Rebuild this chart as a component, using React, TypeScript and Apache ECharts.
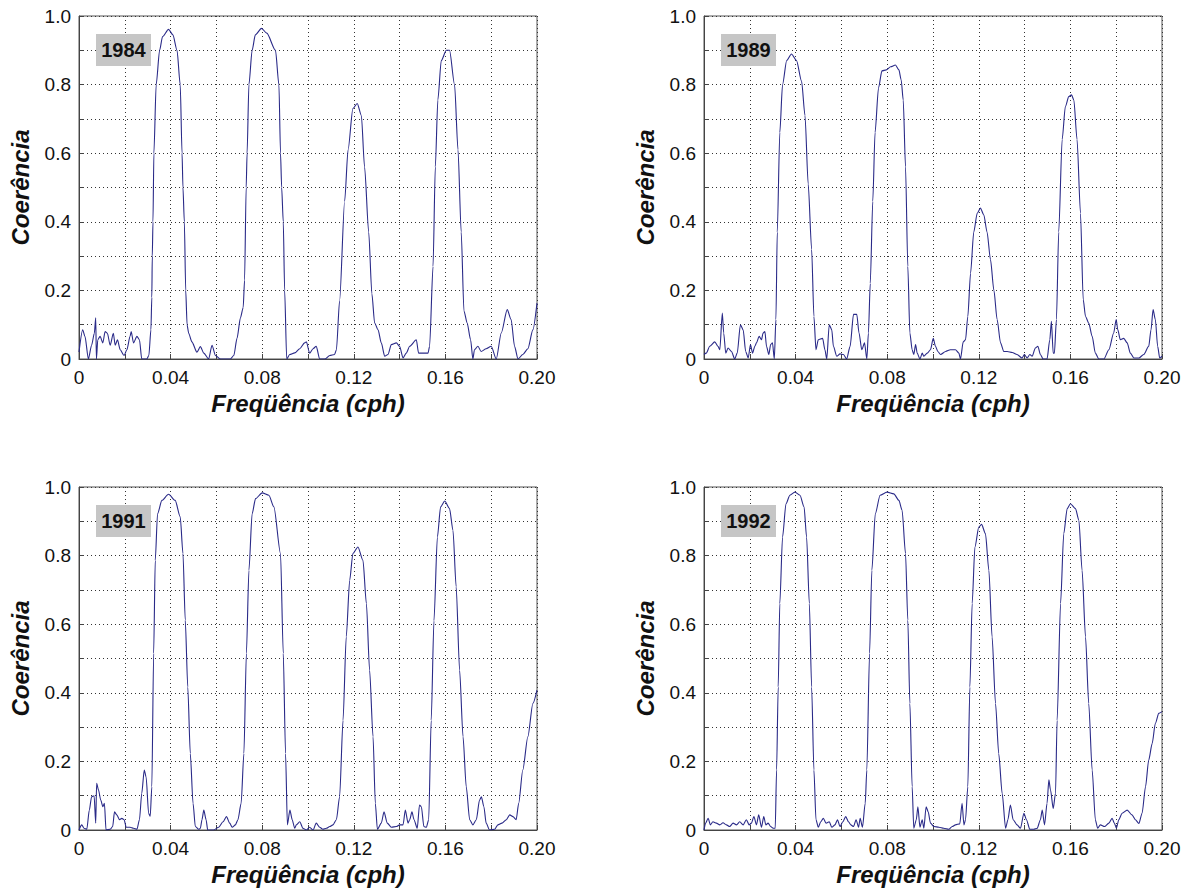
import React, { useEffect, useRef } from 'react';
import * as echarts from 'echarts';

const years = ['1984', '1989', '1991', '1992'];
const xAxisTitle = 'Freqüência (cph)';
const yAxisTitle = 'Coerência';

const coh1984: [number, number][] = [
  [0, 0.02], [0.0016, 0.085], [0.0026, 0.066], [0.0041, 0.0], [0.0055, 0.04], [0.0067, 0.075], [0.0073, 0.12], [0.0076, 0.0],
  [0.0082, 0.056], [0.0092, 0.066], [0.0104, 0.047], [0.0114, 0.08], [0.0124, 0.075], [0.0136, 0.04], [0.015, 0.075], [0.0158, 0.04],
  [0.0168, 0.056], [0.018, 0.027], [0.0197, 0.01], [0.0209, 0.027], [0.0223, 0.066], [0.0228, 0.08], [0.0238, 0.047], [0.0253, 0.066],
  [0.0264, 0.056], [0.0274, 0.0], [0.0296, 0.0], [0.0305, 0.01], [0.0314, 0.085], [0.0318, 0.18], [0.032, 0.3], [0.0323, 0.4],
  [0.0327, 0.6], [0.0337, 0.8], [0.0352, 0.9], [0.0365, 0.94], [0.0391, 0.961], [0.041, 0.945], [0.0428, 0.9], [0.0442, 0.8],
  [0.045, 0.6], [0.0454, 0.5], [0.046, 0.4], [0.0466, 0.2], [0.0472, 0.1], [0.0479, 0.075], [0.0493, 0.05], [0.0515, 0.02],
  [0.053, 0.036], [0.0545, 0.017], [0.0566, 0.0], [0.0581, 0.04], [0.0596, 0.01], [0.0618, 0.0], [0.0661, 0.0], [0.0676, 0.01],
  [0.069, 0.06], [0.0705, 0.12], [0.0717, 0.15], [0.0723, 0.23], [0.073, 0.5], [0.0734, 0.6], [0.0742, 0.8], [0.0756, 0.9],
  [0.077, 0.945], [0.0797, 0.964], [0.082, 0.95], [0.0858, 0.9], [0.0873, 0.8], [0.088, 0.6], [0.0885, 0.5], [0.0892, 0.4],
  [0.0898, 0.2], [0.0907, 0.0], [0.092, 0.013], [0.0942, 0.018], [0.0964, 0.03], [0.0985, 0.047], [0.0993, 0.05], [0.1007, 0.017],
  [0.1022, 0.03], [0.1036, 0.037], [0.1051, 0.0], [0.1073, 0.0], [0.1095, 0.01], [0.1116, 0.013], [0.1124, 0.027], [0.1138, 0.17],
  [0.116, 0.46], [0.1175, 0.61], [0.1196, 0.73], [0.1215, 0.745], [0.1233, 0.71], [0.1247, 0.56], [0.1265, 0.37], [0.1279, 0.19],
  [0.1291, 0.105], [0.1306, 0.085], [0.132, 0.047], [0.1335, 0.008], [0.1349, 0.013], [0.1364, 0.042], [0.1386, 0.047], [0.14, 0.037],
  [0.1415, 0.003], [0.1429, 0.017], [0.1444, 0.037], [0.1473, 0.056], [0.1483, 0.017], [0.1502, 0.017], [0.1524, 0.017], [0.1531, 0.037],
  [0.1546, 0.27], [0.1556, 0.56], [0.1567, 0.755], [0.1582, 0.87], [0.1604, 0.9], [0.1618, 0.9], [0.164, 0.8], [0.1655, 0.61],
  [0.1669, 0.37], [0.1681, 0.14], [0.1695, 0.105], [0.171, 0.056], [0.172, 0.0], [0.1727, 0.027], [0.1742, 0.037], [0.1756, 0.022],
  [0.1778, 0.03], [0.18, 0.037], [0.1822, 0.0], [0.1844, 0.076], [0.187, 0.144], [0.1887, 0.115], [0.1902, 0.037], [0.1917, 0.0],
  [0.1938, 0.013], [0.196, 0.03], [0.1982, 0.085], [0.2, 0.163],
];

const coh1989: [number, number][] = [
  [0, 0.013], [0.001, 0.017], [0.0025, 0.037], [0.0047, 0.05], [0.0061, 0.037], [0.0069, 0.027], [0.008, 0.134], [0.0086, 0.076],
  [0.0095, 0.017], [0.0105, 0.032], [0.012, 0.022], [0.0134, 0.0], [0.0145, 0.017], [0.0159, 0.1], [0.0171, 0.085], [0.0182, 0.022],
  [0.0193, 0.003], [0.0203, 0.042], [0.0212, 0.017], [0.0222, 0.037], [0.0229, 0.047], [0.0241, 0.066], [0.0251, 0.056], [0.0258, 0.076],
  [0.0266, 0.08], [0.0273, 0.037], [0.0283, 0.013], [0.0291, 0.042], [0.0299, 0.047], [0.0307, 0.0], [0.0314, 0.115], [0.032, 0.37],
  [0.0331, 0.66], [0.0343, 0.8], [0.0361, 0.87], [0.0382, 0.889], [0.0404, 0.87], [0.0426, 0.81], [0.0441, 0.71], [0.0455, 0.51],
  [0.047, 0.32], [0.048, 0.124], [0.0489, 0.027], [0.0499, 0.056], [0.0518, 0.06], [0.0528, 0.027], [0.0536, 0.0], [0.0547, 0.1],
  [0.0558, 0.085], [0.0565, 0.037], [0.058, 0.008], [0.0594, 0.015], [0.0609, 0.013], [0.0623, 0.0], [0.0638, 0.037], [0.0653, 0.13],
  [0.0667, 0.13], [0.0677, 0.076], [0.0689, 0.027], [0.0701, 0.047], [0.0711, 0.0], [0.0718, 0.076], [0.0726, 0.22], [0.0737, 0.46],
  [0.0747, 0.66], [0.0762, 0.79], [0.0777, 0.84], [0.0796, 0.843], [0.0815, 0.852], [0.0836, 0.857], [0.0851, 0.843], [0.0861, 0.814],
  [0.087, 0.755], [0.088, 0.56], [0.089, 0.27], [0.0899, 0.076], [0.0909, 0.027], [0.0916, 0.013], [0.0924, 0.042], [0.0931, 0.017],
  [0.0943, 0.0], [0.0953, 0.017], [0.096, 0.008], [0.0975, 0.017], [0.0989, 0.027], [0.1001, 0.06], [0.1011, 0.037], [0.1021, 0.022],
  [0.1033, 0.013], [0.1055, 0.022], [0.1076, 0.027], [0.1098, 0.027], [0.1113, 0.017], [0.112, 0.0], [0.1132, 0.05], [0.1142, 0.056],
  [0.1152, 0.124], [0.1164, 0.25], [0.1178, 0.37], [0.1193, 0.425], [0.1207, 0.44], [0.1222, 0.42], [0.1236, 0.37], [0.1251, 0.29],
  [0.1266, 0.2], [0.128, 0.115], [0.1295, 0.047], [0.1309, 0.022], [0.1324, 0.022], [0.1346, 0.019], [0.1367, 0.013], [0.1389, 0.003],
  [0.1399, 0.013], [0.1411, 0.003], [0.1423, 0.013], [0.1433, 0.008], [0.1447, 0.032], [0.1458, 0.037], [0.1469, 0.013], [0.1481, 0.0],
  [0.1498, 0.0], [0.151, 0.056], [0.1517, 0.11], [0.1525, 0.017], [0.153, 0.017], [0.1539, 0.115], [0.1549, 0.37], [0.1564, 0.64],
  [0.1578, 0.736], [0.1593, 0.765], [0.1605, 0.77], [0.1615, 0.755], [0.1629, 0.64], [0.1644, 0.425], [0.1656, 0.173], [0.1666, 0.124],
  [0.168, 0.105], [0.1695, 0.066], [0.1709, 0.017], [0.1724, 0.0], [0.1746, 0.0], [0.1768, 0.027], [0.1789, 0.076], [0.18, 0.115],
  [0.1807, 0.085], [0.1818, 0.056], [0.1833, 0.06], [0.1848, 0.047], [0.1862, 0.017], [0.1877, 0.003], [0.1899, 0.003], [0.192, 0.013],
  [0.1942, 0.037], [0.1952, 0.085], [0.1961, 0.144], [0.1971, 0.115], [0.1981, 0.037], [0.199, 0.003], [0.2, 0.008],
];

const coh1991: [number, number][] = [
  [0, 0], [0.0012, 0.015], [0.0022, 0.005], [0.0034, 0.002], [0.0045, 0.058], [0.0055, 0.097], [0.0066, 0.1], [0.0073, 0.02],
  [0.0077, 0.136], [0.0085, 0.117], [0.0095, 0.087], [0.0104, 0.068], [0.0111, 0.078], [0.0118, 0.0], [0.0136, 0.002], [0.0147, 0.01],
  [0.0155, 0.053], [0.0165, 0.044], [0.0177, 0.03], [0.0187, 0.034], [0.0197, 0.03], [0.0206, 0.008], [0.0223, 0.008], [0.0238, 0.005],
  [0.0253, 0.002], [0.0264, 0.03], [0.0274, 0.107], [0.0285, 0.175], [0.0293, 0.155], [0.0304, 0.049], [0.0311, 0.04], [0.0318, 0.126],
  [0.0326, 0.515], [0.0333, 0.786], [0.0343, 0.922], [0.0362, 0.961], [0.0391, 0.979], [0.042, 0.961], [0.0442, 0.913], [0.0454, 0.806],
  [0.0464, 0.612], [0.0475, 0.417], [0.0486, 0.223], [0.0498, 0.078], [0.0508, 0.01], [0.0523, 0.002], [0.053, 0.005], [0.0537, 0.03],
  [0.0545, 0.058], [0.0555, 0.03], [0.0562, 0.0], [0.0588, 0.0], [0.061, 0.008], [0.0629, 0.024], [0.0644, 0.039], [0.0658, 0.02],
  [0.0669, 0.008], [0.0683, 0.015], [0.0694, 0.03], [0.0708, 0.078], [0.072, 0.223], [0.0731, 0.515], [0.0742, 0.757], [0.0756, 0.922],
  [0.0771, 0.966], [0.08, 0.983], [0.0829, 0.976], [0.0851, 0.942], [0.088, 0.806], [0.0892, 0.515], [0.0902, 0.223], [0.091, 0.015],
  [0.0921, 0.058], [0.0931, 0.03], [0.0942, 0.005], [0.0949, 0.015], [0.0964, 0.024], [0.0978, 0.005], [0.0993, 0.0], [0.1007, 0.008],
  [0.1022, 0.0], [0.1036, 0.02], [0.1051, 0.008], [0.1065, 0.002], [0.108, 0.005], [0.1095, 0.01], [0.1109, 0.015], [0.1124, 0.03],
  [0.1138, 0.097], [0.1153, 0.32], [0.1167, 0.563], [0.1182, 0.728], [0.1196, 0.806], [0.1218, 0.825], [0.124, 0.786], [0.1255, 0.66],
  [0.1269, 0.466], [0.1284, 0.272], [0.1294, 0.078], [0.1303, 0.002], [0.132, 0.02], [0.1332, 0.053], [0.1346, 0.02], [0.1364, 0.008],
  [0.1386, 0.01], [0.14, 0.015], [0.1415, 0.015], [0.1425, 0.058], [0.1437, 0.02], [0.1444, 0.03], [0.1454, 0.053], [0.1463, 0.03],
  [0.1477, 0.005], [0.1487, 0.073], [0.1495, 0.068], [0.1506, 0.01], [0.1517, 0.008], [0.1527, 0.03], [0.1538, 0.32], [0.155, 0.61],
  [0.1565, 0.854], [0.1579, 0.942], [0.1597, 0.959], [0.1618, 0.937], [0.1633, 0.874], [0.1647, 0.709], [0.1662, 0.466], [0.1677, 0.272],
  [0.1691, 0.126], [0.1706, 0.03], [0.172, 0.015], [0.1735, 0.03], [0.1749, 0.087], [0.1757, 0.097], [0.1768, 0.068], [0.1778, 0.02],
  [0.1793, 0.0], [0.1815, 0.002], [0.1829, 0.015], [0.1847, 0.02], [0.1866, 0.03], [0.1881, 0.044], [0.1895, 0.039], [0.1909, 0.03],
  [0.192, 0.078], [0.1938, 0.175], [0.196, 0.272], [0.1982, 0.369], [0.2, 0.408],
];

const coh1992: [number, number][] = [
  [0, 0], [0.0007, 0.02], [0.0018, 0.034], [0.0028, 0.015], [0.0039, 0.024], [0.0054, 0.02], [0.0069, 0.015], [0.0083, 0.021],
  [0.0098, 0.015], [0.0112, 0.01], [0.0127, 0.02], [0.0142, 0.015], [0.0156, 0.024], [0.0171, 0.015], [0.0185, 0.03], [0.0197, 0.015],
  [0.0207, 0.02], [0.0218, 0.039], [0.0229, 0.015], [0.0239, 0.044], [0.0251, 0.008], [0.0261, 0.039], [0.027, 0.015], [0.028, 0.02],
  [0.0291, 0.01], [0.0302, 0.005], [0.0311, 0.005], [0.0317, 0.175], [0.0324, 0.417], [0.0331, 0.66], [0.0343, 0.854], [0.0358, 0.951],
  [0.0375, 0.976], [0.0397, 0.985], [0.0419, 0.976], [0.0437, 0.942], [0.0448, 0.854], [0.046, 0.66], [0.047, 0.417], [0.048, 0.175],
  [0.0489, 0.03], [0.0499, 0.008], [0.051, 0.024], [0.0521, 0.034], [0.0533, 0.02], [0.0547, 0.024], [0.0558, 0.008], [0.0572, 0.015],
  [0.0583, 0.03], [0.0594, 0.01], [0.0606, 0.024], [0.0619, 0.039], [0.0631, 0.024], [0.0641, 0.015], [0.0653, 0.01], [0.0664, 0.03],
  [0.0675, 0.008], [0.0682, 0.034], [0.0692, 0.008], [0.0704, 0.078], [0.0711, 0.175], [0.0723, 0.515], [0.0733, 0.757], [0.0748, 0.922],
  [0.0769, 0.976], [0.0799, 0.985], [0.0829, 0.98], [0.0851, 0.961], [0.0865, 0.932], [0.088, 0.806], [0.089, 0.612], [0.0899, 0.369],
  [0.0909, 0.126], [0.0916, 0.005], [0.0927, 0.03], [0.0934, 0.068], [0.0943, 0.008], [0.0953, 0.03], [0.096, 0.005], [0.097, 0.068],
  [0.0979, 0.053], [0.0989, 0.02], [0.1004, 0.01], [0.1026, 0.008], [0.1047, 0.005], [0.1069, 0.002], [0.1084, 0.01], [0.1098, 0.015],
  [0.1117, 0.018], [0.1127, 0.078], [0.1135, 0.015], [0.1142, 0.03], [0.1152, 0.126], [0.1161, 0.417], [0.1171, 0.66], [0.1183, 0.825],
  [0.12, 0.883], [0.1212, 0.891], [0.1229, 0.864], [0.1244, 0.757], [0.1258, 0.563], [0.1273, 0.369], [0.1287, 0.223], [0.1302, 0.107],
  [0.1317, 0.005], [0.1327, 0.03], [0.1338, 0.073], [0.135, 0.03], [0.1367, 0.015], [0.1382, 0.005], [0.1397, 0.049], [0.1408, 0.03],
  [0.1423, 0.002], [0.144, 0.002], [0.1455, 0.005], [0.1469, 0.03], [0.1477, 0.058], [0.1487, 0.015], [0.1498, 0.078], [0.1506, 0.146],
  [0.1513, 0.117], [0.1525, 0.063], [0.1535, 0.107], [0.1542, 0.32], [0.1557, 0.66], [0.1571, 0.864], [0.1586, 0.937], [0.16, 0.951],
  [0.1622, 0.937], [0.1637, 0.903], [0.1651, 0.757], [0.1666, 0.563], [0.168, 0.369], [0.1695, 0.175], [0.1709, 0.03], [0.1719, 0.005],
  [0.1731, 0.015], [0.1749, 0.01], [0.1768, 0.02], [0.1782, 0.034], [0.1792, 0.02], [0.1801, 0.005], [0.1811, 0.03], [0.1826, 0.049],
  [0.1848, 0.058], [0.1869, 0.044], [0.1884, 0.03], [0.1899, 0.019], [0.1913, 0.049], [0.1928, 0.126], [0.1942, 0.204], [0.1957, 0.252],
  [0.1971, 0.311], [0.1986, 0.34], [0.2, 0.345],
];

const panelData = [coh1984, coh1989, coh1991, coh1992];

export default function App() {
  const ref = useRef<HTMLDivElement>(null);

  useEffect(() => {
    if (!ref.current) return;
    const chart = echarts.init(ref.current, null, { renderer: 'svg' });
    const font = '"Liberation Sans", Arial, Helvetica, sans-serif';
    const lefts = [79, 704, 79, 704];
    const tops = [16, 16, 487, 487];
    const W = 458;
    const H = 343;

    const grids: any[] = [];
    const xAxes: any[] = [];
    const yAxes: any[] = [];
    const series: any[] = [];
    const graphics: any[] = [];

    for (let i = 0; i < 4; i++) {
      grids.push({
        left: lefts[i], top: tops[i], width: W, height: H,
        show: true, borderColor: '#555', borderWidth: 1, backgroundColor: '#fff',
      });
      xAxes.push({
        type: 'value', gridIndex: i, min: 0, max: 0.2, interval: 0.02,
        axisLine: { show: true, onZero: false, lineStyle: { color: '#444', width: 1 } },
        axisTick: { show: true, inside: true, length: 5, lineStyle: { color: '#444' } },
        axisLabel: {
          margin: 9, color: '#111', fontFamily: font, fontSize: 19,
          formatter: (v: number) => {
            const k = Math.round(v / 0.02);
            if (k % 2 !== 0) return '';
            return k === 0 ? '0' : v.toFixed(2);
          },
        },
        splitLine: { show: true, lineStyle: { color: '#333', type: [1, 3], width: 1 } },
        name: xAxisTitle, nameLocation: 'middle', nameGap: 32,
        nameTextStyle: { fontFamily: font, fontSize: 24, fontWeight: 'bold', fontStyle: 'italic', color: '#111' },
      });
      yAxes.push({
        type: 'value', gridIndex: i, min: 0, max: 1, interval: 0.1,
        axisLine: { show: true, onZero: false, lineStyle: { color: '#444', width: 1 } },
        axisTick: { show: true, inside: true, length: 5, lineStyle: { color: '#444' } },
        axisLabel: {
          margin: 8, color: '#111', fontFamily: font, fontSize: 19,
          formatter: (v: number) => {
            const k = Math.round(v * 10);
            if (k % 2 !== 0) return '';
            return k === 0 ? '0' : v.toFixed(1);
          },
        },
        splitLine: { show: true, lineStyle: { color: '#333', type: [1, 3], width: 1 } },
        name: yAxisTitle, nameLocation: 'middle', nameGap: 47, nameRotate: 90,
        nameTextStyle: { fontFamily: font, fontSize: 24, fontWeight: 'bold', fontStyle: 'italic', color: '#111' },
      });
      series.push({
        type: 'line', xAxisIndex: i, yAxisIndex: i, data: panelData[i],
        showSymbol: false, symbol: 'none', smooth: 0.25, smoothMonotone: 'x', clip: true,
        lineStyle: { color: '#2a2a88', width: 1.1 },
      });
      const bx = lefts[i] + 17;
      const by = tops[i] + 18;
      graphics.push({
        type: 'rect', shape: { x: bx, y: by, width: 55, height: 32 },
        style: { fill: '#c6c6c6' }, z: 100,
      });
      graphics.push({
        type: 'text', x: bx + 27.5, y: by + 16, z: 101,
        style: {
          text: years[i], fill: '#111', align: 'center', verticalAlign: 'middle',
          fontFamily: font, fontSize: 20, fontWeight: 'bold',
        },
      });
    }

    chart.setOption({
      animation: false,
      backgroundColor: '#fff',
      grid: grids,
      xAxis: xAxes,
      yAxis: yAxes,
      series,
      graphic: graphics,
    });

    return () => chart.dispose();
  }, []);

  return (
    <div
      ref={ref}
      style={{ position: 'fixed', left: 0, top: 0, width: 1192, height: 890, background: '#fff' }}
    />
  );
}
